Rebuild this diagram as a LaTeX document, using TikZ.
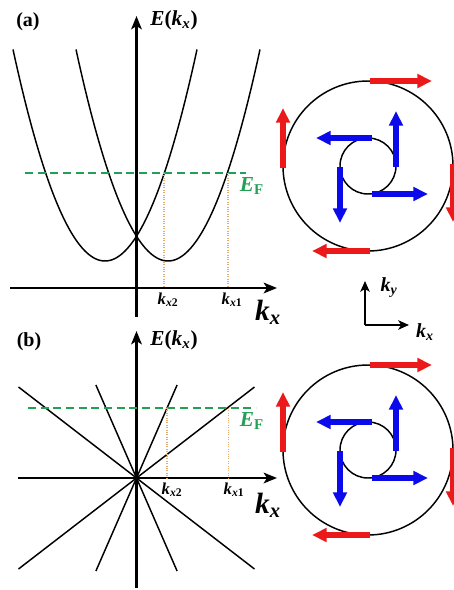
\documentclass[tikz,border=0pt]{standalone}
\usepackage{fontspec}
\setmainfont{Liberation Serif}
\usetikzlibrary{arrows.meta}
\definecolor{efgreen}{RGB}{35,160,85}
\definecolor{dotor}{RGB}{225,170,110}
\definecolor{spinred}{RGB}{235,25,25}
\definecolor{spinblue}{RGB}{10,10,235}
\newcommand{\fsz}[1]{\fontsize{#1}{#1}\selectfont}
\begin{document}
\begin{tikzpicture}[x=0.75pt,y=-0.75pt,
  axis/.style={line width=1.6pt,-{Stealth[length=10pt,width=8pt,inset=2.5pt]}},
  smallaxis/.style={line width=1.4pt,-{Stealth[length=8pt,width=7pt,inset=2pt]}},
  band/.style={line width=1.1pt},
  fermi/.style={efgreen,line width=1.2pt,dash pattern=on 6pt off 3.5pt},
  kdot/.style={dotor,line width=0.8pt,dash pattern=on 0.8pt off 1pt},
  ring/.style={line width=1.1pt},
  spinR/.style={spinred,line width=3.8pt,-{Triangle[length=11pt,width=10pt]}},
  spinB/.style={spinblue,line width=3.8pt,-{Triangle[length=11pt,width=10pt]}},
  lbl/.style={inner sep=0pt},
  panel/.style={inner sep=0pt,font=\bfseries\fsz{15}}]
\useasboundingbox (0,0) rectangle (454,590);

% ---------- panel (a) ----------
\node[panel] (alab) at (28,22) {(a)};
\coordinate (aL) at (10,288);
\coordinate (aR) at (277,288);
\coordinate (aB) at (136.5,317);
\coordinate (aT) at (136.5,16);
\draw[axis] (aL) -- (aR);
\draw[axis] (aB) -- (aT);
\node[lbl,font=\bfseries\fsz{16}] (aE) at (174,20) {\textit{E}(\textit{k}\textsubscript{\textit{x}})};
\draw[band] plot[domain=13:197,samples=90,smooth] (\x,{261-0.025*(\x-105)^2});
\draw[band] plot[domain=76:260,samples=90,smooth] (\x,{261-0.025*(\x-168)^2});
\coordinate (aF1) at (25,173);
\coordinate (aF2) at (246,173);
\draw[fermi] (aF1) -- (aF2);
\node[lbl,font=\bfseries\fsz{16},text=efgreen] (aEF) at (252,186) {\textit{E}\textsubscript{F}};
\coordinate (ak2t) at (164,173);
\coordinate (ak2b) at (164,288);
\coordinate (ak1t) at (228,173);
\coordinate (ak1b) at (228,288);
\draw[kdot] (ak2t) -- (ak2b);
\draw[kdot] (ak1t) -- (ak1b);
\node[lbl,font=\bfseries\fsz{12.5}] (ak2) at (168,300) {\textit{k}\textsubscript{\textit{x}2}};
\node[lbl,font=\bfseries\fsz{12.5}] (ak1) at (232,300) {\textit{k}\textsubscript{\textit{x}1}};
\node[lbl,font=\bfseries\fsz{22}] (akx) at (268,312) {\textit{k}\textsubscript{\textit{x}}};

% ---------- spin textures ----------
\foreach \cy/\nm in {166/a,450/b}{
  \coordinate (\nm C) at (368,\cy);
  \draw[ring] (\nm C) circle[radius=85];
  \draw[ring] (\nm C) circle[radius=28];
  % outer (red), clockwise
  \coordinate (\nm ot) at (370,\cy-85);
  \coordinate (\nm or) at (453,\cy-2);
  \coordinate (\nm ob) at (370,\cy+85);
  \coordinate (\nm ol) at (283,\cy+2);
  \draw[spinR] (\nm ot) -- ++(62,0);
  \draw[spinR] (\nm or) -- ++(0,58);
  \draw[spinR] (\nm ob) -- ++(-58,0);
  \draw[spinR] (\nm ol) -- ++(0,-60);
  % inner (blue), counter-clockwise
  \coordinate (\nm it) at (372,\cy-28);
  \coordinate (\nm il) at (340,\cy+1);
  \coordinate (\nm ib) at (372,\cy+28);
  \coordinate (\nm ir) at (396,\cy+1);
  \draw[spinB] (\nm it) -- ++(-56,0);
  \draw[spinB] (\nm il) -- ++(0,56);
  \draw[spinB] (\nm ib) -- ++(56,0);
  \draw[spinB] (\nm ir) -- ++(0,-56);
}

% ---------- kx-ky frame ----------
\coordinate (fC) at (365,325);
\coordinate (fU) at (365,281);
\coordinate (fR) at (409,325);
\draw[smallaxis] (fC) -- (fU);
\draw[smallaxis] (fC) -- (fR);
\node[lbl,font=\bfseries\fsz{15}] (fky) at (389,288) {\textit{k}\textsubscript{\textit{y}}};
\node[lbl,font=\bfseries\fsz{15}] (fkx) at (425,332) {\textit{k}\textsubscript{\textit{x}}};

% ---------- panel (b) ----------
\node[panel] (blab) at (29,342) {(b)};
\coordinate (bL) at (18,478);
\coordinate (bR) at (277,478);
\coordinate (bB) at (136.5,588);
\coordinate (bT) at (136.5,331);
\draw[axis] (bL) -- (bR);
\draw[axis] (bB) -- (bT);
\node[lbl,font=\bfseries\fsz{16}] (bE) at (174,340) {\textit{E}(\textit{k}\textsubscript{\textit{x}})};
\coordinate (bs1) at (18.5,569);
\coordinate (bs2) at (254.5,387);
\coordinate (bs3) at (18.5,387);
\coordinate (bs4) at (254.5,569);
\coordinate (bt1) at (95.9,571);
\coordinate (bt2) at (177.1,385);
\coordinate (bt3) at (95.9,385);
\coordinate (bt4) at (177.1,571);
\draw[band] (bs1) -- (bs2);
\draw[band] (bs3) -- (bs4);
\draw[band] (bt1) -- (bt2);
\draw[band] (bt3) -- (bt4);
\coordinate (bF1) at (28,408);
\coordinate (bF2) at (256,408);
\draw[fermi] (bF1) -- (bF2);
\node[lbl,font=\bfseries\fsz{16},text=efgreen] (bEF) at (252,421) {\textit{E}\textsubscript{F}};
\coordinate (bk2t) at (167,408);
\coordinate (bk2b) at (167,478);
\coordinate (bk1t) at (228.5,408);
\coordinate (bk1b) at (228.5,478);
\draw[kdot] (bk2t) -- (bk2b);
\draw[kdot] (bk1t) -- (bk1b);
\node[lbl,font=\bfseries\fsz{12.5}] (bk2) at (172,490) {\textit{k}\textsubscript{\textit{x}2}};
\node[lbl,font=\bfseries\fsz{12.5}] (bk1) at (234,490) {\textit{k}\textsubscript{\textit{x}1}};
\node[lbl,font=\bfseries\fsz{22}] (bkx) at (268,505) {\textit{k}\textsubscript{\textit{x}}};
\end{tikzpicture}
\end{document}
